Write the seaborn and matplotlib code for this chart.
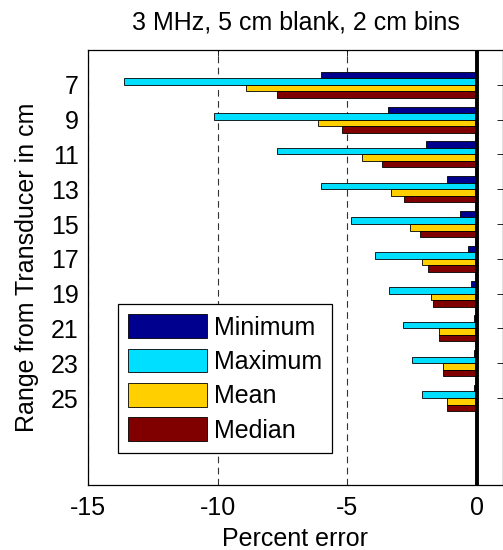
import numpy as np
import pandas as pd
import matplotlib
matplotlib.use("Agg")
import matplotlib.pyplot as plt
import seaborn as sns

# ---- data ----
ranges = [7, 9, 11, 13, 15, 17, 19, 21, 23, 25]
minimum = [-6.0, -3.45, -1.95, -1.15, -0.65, -0.35, -0.22, -0.13, -0.13, -0.13]
maximum = [-13.6, -10.15, -7.7, -6.0, -4.85, -3.95, -3.38, -2.86, -2.49, -2.12]
mean = [-8.9, -6.15, -4.45, -3.3, -2.58, -2.14, -1.76, -1.46, -1.32, -1.16]
median = [-7.7, -5.2, -3.67, -2.8, -2.2, -1.91, -1.70, -1.46, -1.32, -1.16]
series_names = ["Minimum", "Maximum", "Mean", "Median"]
x_ticks = [-15, -10, -5, 0]
y_ticks = ranges
title = "3 MHz, 5 cm blank, 2 cm bins"
xlabel = "Percent error"
ylabel = "Range from Transducer in cm"

colors = ["#00008F", "#00DFFF", "#FFCF00", "#800000"]

df = pd.DataFrame({
    "range": ranges * 4,
    "stat": np.repeat(series_names, len(ranges)),
    "value": minimum + maximum + mean + median,
})

sns.set_style("white")
plt.rcParams["font.family"] = ["Liberation Sans", "DejaVu Sans"]
plt.rcParams["axes.unicode_minus"] = False
for k in ["text.color", "axes.labelcolor", "xtick.color", "ytick.color", "axes.edgecolor"]:
    plt.rcParams[k] = "black"
FS = 18

fig = plt.figure(figsize=(5.03, 5.50), dpi=100)
ax = fig.add_axes([88 / 503, 1 - 485 / 550, (503 - 88) / 503, 435 / 550])

sns.barplot(data=df, x="value", y="range", hue="stat", hue_order=series_names,
            orient="h", native_scale=True, palette=colors, saturation=1,
            width=0.75, gap=0, edgecolor="black", linewidth=0.6,
            errorbar=None, ax=ax, zorder=2)

ax.set_xlim(-15, 1)
ax.set_ylim(30, 5)
ax.set_xticks(x_ticks)
ax.set_xticklabels([str(v) for v in x_ticks])
ax.set_yticks(y_ticks)
ax.set_yticklabels([str(v) for v in y_ticks])

ax.xaxis.grid(True, color="#333333", linestyle=(0, (6, 4)), linewidth=0.8, zorder=0)
ax.yaxis.grid(False)
ax.set_axisbelow(True)
ax.axvline(0, color="black", linewidth=2.8, zorder=3)

ax.tick_params(axis="both", direction="in", length=4, width=0.6, labelsize=FS,
               top=True, right=True, color="black", labelcolor="black")
ax.tick_params(axis="y", pad=6.5)
ax.tick_params(axis="x", pad=8)
for s in ax.spines.values():
    s.set_color("black")
    s.set_linewidth(0.9)

ax.set_title(title, fontsize=FS, pad=15, color="black")
ax.set_xlabel(xlabel, fontsize=FS, labelpad=5, color="black")
ax.set_ylabel(ylabel, fontsize=FS, labelpad=9, color="black")

handles, labels = ax.get_legend_handles_labels()
leg = ax.legend(handles, labels, loc="lower left", bbox_to_anchor=(0.072, 0.074),
                borderaxespad=0, fontsize=FS, handlelength=3.15, handleheight=1.08,
                handletextpad=0.3, labelspacing=0.36, borderpad=0.4,
                frameon=True, fancybox=False, framealpha=1, edgecolor="black")
leg.get_frame().set_linewidth(0.9)
for t in leg.get_texts():
    t.set_color("black")

fig.savefig("out.png", dpi=100)
